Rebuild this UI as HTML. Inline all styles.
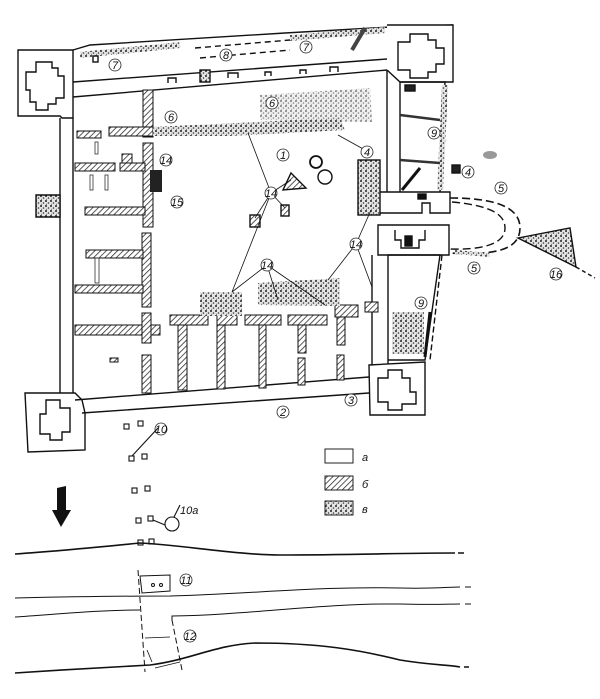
<!DOCTYPE html>
<html><head><meta charset="utf-8"><style>
html,body{margin:0;padding:0;background:#fff;}
svg{display:block}
text{font-family:"Liberation Sans",sans-serif;font-style:italic;font-size:11px;fill:#111}
</style></head><body>
<svg width="600" height="699" viewBox="0 0 600 699" xmlns="http://www.w3.org/2000/svg">
<defs>
<pattern id="h" width="4" height="4" patternUnits="userSpaceOnUse" patternTransform="rotate(45)">
<rect width="4" height="4" fill="#fff"/><line x1="0" y1="0" x2="0" y2="4" stroke="#222" stroke-width="1.5"/></pattern>
<pattern id="s" width="5" height="5" patternUnits="userSpaceOnUse">
<rect width="5" height="5" fill="#e4e4e4"/><circle cx="1" cy="1" r="1" fill="#222"/><circle cx="3.5" cy="3" r="0.8" fill="#333"/><circle cx="1.5" cy="4.2" r="0.5" fill="#444"/></pattern>
</defs>
<g fill="none" stroke="#111" stroke-width="1.4">
<!-- NW tower -->
<path d="M18,50 L73,50 L73,118 L62,118 L60,116 L18,116 Z" fill="#fff"/>
<path d="M36,62 L52,62 L52,68 L58,68 L58,76 L64,76 L64,98 L56,98 L56,104 L48,104 L48,110 L36,110 L36,102 L30,102 L30,90 L26,90 L26,72 L36,72 Z"/>
<!-- North wall & zone 7 -->
<path d="M73,82 L387,59 M73,97 L387,70"/>
<path d="M73,50 L90,45 L285,33 L390,27 L453,25"/>
<path d="M80,55 L180,45" stroke="url(#s)" stroke-width="6"/>
<path d="M290,38 L385,30" stroke="url(#s)" stroke-width="6"/>
<path d="M195,48 L290,40 M200,58 L290,50" stroke-dasharray="6,4"/>
<path d="M352,50 L365,28" stroke-width="4" stroke="#444"/>
<rect x="93" y="56" width="5" height="6"/><rect x="200" y="70" width="10" height="12" fill="url(#s)"/>
<path d="M168,83 v-5 h8 v5 M228,78 v-5 h10 v5 M265,76 v-4 h6 v4 M300,74 v-4 h6 v4 M330,72 v-5 h8 v5"/>
<!-- NE tower -->
<path d="M387,25 L453,25 L453,82 L400,82 L387,70" fill="#fff"/>
<path d="M410,34 L428,34 L428,40 L436,40 L436,48 L444,48 L444,64 L436,64 L436,72 L428,72 L428,78 L410,78 L410,70 L398,70 L398,42 L410,42 Z"/>
<!-- East wall & annex -->
<path d="M387,70 L387,192 M400,82 L400,192"/>
<path d="M400,82 L445,82 L440,192"/>
<path d="M445,85 L440,190" stroke="url(#s)" stroke-width="6"/>
<path d="M400,115 L440,120 M400,160 L440,163" stroke="#333" stroke-width="2.5"/>
<path d="M402,190 L420,168" stroke="#111" stroke-width="3"/>
<rect x="405" y="85" width="10" height="6" fill="#222"/>
<rect x="452" y="165" width="8" height="8" fill="#222"/>
<!-- gate blocks -->
<path d="M378,192 L450,192 L450,213 L430,213 L430,203 L422,203 L422,213 L378,213 Z" fill="#fff"/>
<rect x="418" y="194" width="8" height="5" fill="#111"/>
<path d="M378,225 L449,225 L449,255 L378,255 Z M395,230 v10 h6 v8 h18 v-8 h6 v-10" fill="#fff"/>
<rect x="405" y="236" width="7" height="10" fill="#111"/>
<rect x="358" y="160" width="22" height="55" fill="url(#s)"/>
<!-- loop -->
<path d="M450,198 C490,198 520,205 520,228 C520,252 490,255 449,253" stroke-dasharray="8,4" stroke-width="1.6"/>
<path d="M452,202 C485,205 505,212 505,228 C505,245 480,250 449,249" stroke-dasharray="8,4"/>
<path d="M455,252 L490,255" stroke="url(#s)" stroke-width="4"/>
<path d="M518,238 L570,228 L576,267 Z" fill="url(#s)"/>
<path d="M576,267 L595,278" stroke-dasharray="4,3"/>
<ellipse cx="490" cy="155" rx="7" ry="4" fill="#999" stroke="none"/>
<!-- lower east -->
<path d="M372,255 L372,377 M388,255 L388,377 M388,255 L440,255 L425,360 L388,360"/>
<path d="M442,255 L430,360" stroke-dasharray="6,3"/>
<rect x="392" y="312" width="32" height="42" fill="url(#s)" stroke="none"/>
<path d="M430,312 L425,357" stroke="#111" stroke-width="3"/>
<!-- SE tower -->
<path d="M369,365 L425,362 L425,415 L370,415 Z" fill="#fff"/>
<path d="M388,370 L402,370 L402,378 L410,378 L410,392 L416,392 L416,404 L402,404 L402,410 L388,410 L388,402 L378,402 L378,378 L388,378 Z"/>
<!-- West wall -->
<path d="M60,118 L60,393 M73,118 L73,393"/>
<path d="M36,195 L60,195 L60,217 L36,217 Z" fill="url(#s)"/>
<!-- SW tower -->
<path d="M25,393 L75,393 L82,400 L85,413 L85,450 L28,452 Z" fill="#fff"/>
<path d="M46,400 L60,400 L60,408 L70,408 L70,432 L62,432 L62,440 L50,440 L50,434 L40,434 L40,414 L46,414 Z"/>
<!-- South wall -->
<path d="M75,400 L369,377 M82,413 L369,393"/>
<!-- interior hatched walls -->
<g fill="url(#h)" stroke="#111" stroke-width="1">
<rect x="143" y="90" width="10" height="47"/>
<rect x="109" y="127" width="44" height="9"/>
<rect x="77" y="131" width="24" height="7"/>
<rect x="143" y="143" width="10" height="84"/>
<rect x="75" y="163" width="40" height="8"/>
<rect x="120" y="163" width="25" height="8"/>
<rect x="122" y="154" width="10" height="9"/>
<rect x="85" y="207" width="60" height="8"/>
<rect x="142" y="233" width="9" height="74"/>
<rect x="86" y="250" width="57" height="8"/>
<rect x="75" y="285" width="68" height="8"/>
<rect x="75" y="325" width="85" height="10"/>
<rect x="142" y="313" width="9" height="30"/>
<rect x="142" y="355" width="9" height="38"/>
<rect x="110" y="358" width="8" height="4"/>
<rect x="170" y="315" width="38" height="10"/><rect x="178" y="325" width="9" height="65"/>
<rect x="217" y="315" width="20" height="10"/><rect x="217" y="325" width="8" height="64"/>
<rect x="245" y="315" width="36" height="10"/><rect x="259" y="325" width="7" height="63"/>
<rect x="288" y="315" width="39" height="10"/><rect x="298" y="325" width="8" height="28"/><rect x="298" y="358" width="7" height="27"/>
<rect x="335" y="305" width="23" height="12"/><rect x="337" y="317" width="8" height="28"/><rect x="337" y="355" width="7" height="25"/>
<rect x="365" y="302" width="13" height="10"/>
</g>
<g stroke="#333" stroke-width="0.8">
<rect x="95" y="142" width="3" height="12" /><rect x="90" y="175" width="3" height="15"/><rect x="105" y="175" width="3" height="15"/><rect x="95" y="258" width="4" height="25"/>
</g>
<!-- stipple zones -->
<path d="M153,127 L340,118 L345,130 L230,136 L153,136 Z" fill="url(#s)" stroke="none"/>
<path d="M260,95 L370,88 L372,122 L260,120 Z" fill="url(#s)" stroke="none" opacity="0.6"/>
<rect x="150" y="170" width="12" height="22" fill="#222" stroke="none"/>
<rect x="200" y="292" width="42" height="24" fill="url(#s)" stroke="none"/>
<path d="M258,283 L340,278 L340,306 L258,305 Z" fill="url(#s)" stroke="none"/>
<!-- interior features -->
<path d="M291,173 L306,188 L283,190 Z" fill="url(#h)"/>
<rect x="250" y="215" width="10" height="12" fill="url(#h)"/><rect x="281" y="205" width="8" height="11" fill="url(#h)"/>
<circle cx="316" cy="162" r="6" stroke-width="1.8"/><circle cx="325" cy="177" r="7"/>
<!-- leader lines for 14 -->
<g stroke-width="0.8">
<path d="M271,193 L248,133 M271,193 L291,180 M271,193 L255,218 M271,193 L285,208 M271,193 L232,292"/>
<path d="M356,244 L371,210 M356,244 L372,287 M356,244 L328,280"/>
<path d="M267,265 L232,292 M267,265 L278,300 M267,265 L325,305"/>
<path d="M365,150 L338,135"/>
</g>
</g>
<!-- labels -->
<g fill="#fff" stroke="#222" stroke-width="0.8">
<circle cx="115" cy="65" r="6"/><circle cx="226" cy="55" r="6"/><circle cx="306" cy="47" r="6"/>
<circle cx="171" cy="117" r="6"/><circle cx="272" cy="103" r="6"/><circle cx="283" cy="155" r="6"/>
<circle cx="367" cy="152" r="6"/><circle cx="434" cy="133" r="6"/><circle cx="468" cy="172" r="6"/>
<circle cx="501" cy="188" r="6"/><circle cx="474" cy="268" r="6"/><circle cx="556" cy="274" r="6"/>
<circle cx="421" cy="303" r="6"/><circle cx="166" cy="160" r="6"/><circle cx="177" cy="202" r="6"/>
<circle cx="271" cy="193" r="6"/><circle cx="356" cy="244" r="6"/><circle cx="267" cy="265" r="6"/>
<circle cx="283" cy="412" r="6"/><circle cx="351" cy="400" r="6"/><circle cx="161" cy="429" r="6"/>
<circle cx="186" cy="580" r="6"/><circle cx="190" cy="636" r="6"/>
</g>
<g text-anchor="middle">
<text x="115" y="69">7</text><text x="226" y="59">8</text><text x="306" y="51">7</text>
<text x="171" y="121">6</text><text x="272" y="107">6</text><text x="283" y="159">1</text>
<text x="367" y="156">4</text><text x="434" y="137">9</text><text x="468" y="176">4</text>
<text x="501" y="192">5</text><text x="474" y="272">5</text><text x="556" y="278" font-size="9">16</text>
<text x="421" y="307">9</text><text x="166" y="164" font-size="9">14</text><text x="177" y="206" font-size="9">15</text>
<text x="271" y="197" font-size="9">14</text><text x="356" y="248" font-size="9">14</text><text x="267" y="269" font-size="9">14</text>
<text x="283" y="416">2</text><text x="351" y="404">3</text><text x="161" y="433" font-size="9">10</text>
<text x="186" y="584" font-size="9">11</text><text x="190" y="640" font-size="9">12</text>
</g>
<!-- bottom squares -->
<g fill="#fff" stroke="#111" stroke-width="1.1">
<rect x="124" y="424" width="5" height="5"/><rect x="138" y="421" width="5" height="5"/>
<rect x="129" y="456" width="5" height="5"/><rect x="142" y="454" width="5" height="5"/>
<rect x="132" y="488" width="5" height="5"/><rect x="145" y="486" width="5" height="5"/>
<rect x="136" y="518" width="5" height="5"/><rect x="148" y="516" width="5" height="5"/>
<rect x="138" y="540" width="5" height="5"/><rect x="149" y="539" width="5" height="5"/>
<circle cx="172" cy="524" r="7"/>
<path d="M158,428 L132,456 M153,520 L165,525 M174,517 L180,505" fill="none"/>
</g>
<text x="180" y="514" font-size="11">10a</text>
<!-- legend -->
<rect x="325" y="449" width="28" height="14" fill="#fff" stroke="#222"/>
<rect x="325" y="476" width="28" height="14" fill="url(#h)" stroke="#222"/>
<rect x="325" y="501" width="28" height="14" fill="url(#s)" stroke="#222"/>
<text x="362" y="461" font-size="13">a</text><text x="362" y="488" font-size="13">б</text><text x="362" y="513" font-size="13">в</text>
<!-- arrow -->
<path d="M57,488 L66,486 L66,510 L71,510 L61,527 L52,510 L57,510 Z" fill="#111"/>
<!-- terrain lines -->
<g fill="none" stroke="#111">
<path d="M15,554 C60,551 100,547 140,543 C180,545 240,555 280,555 C350,555 400,553 455,553" stroke-width="1.6"/>
<path d="M458,553 h6" stroke-width="1.5"/>
<path d="M15,598 C60,597 110,596 170,596 C250,594 320,586 400,588 C430,589 450,587 460,587 M465,587 h6" stroke-width="1"/>
<path d="M15,617 C60,614 100,610 140,610 M172,621 L172,616 C250,615 320,603 400,604 C430,605 450,604 460,604 M465,604 h6" stroke-width="1"/>
<path d="M15,673 C60,670 110,667 150,665 C190,660 215,645 255,643 C320,643 360,650 400,660 C430,665 450,665 460,667 M464,667 h5" stroke-width="1.6"/>
<path d="M138,570 L145,672 M172,620 L182,670" stroke-dasharray="6,3"/>
<path d="M140,576 L170,575 L170,591 L142,593 Z" fill="#fff"/>
<circle cx="153" cy="585" r="1.5"/><circle cx="161" cy="585" r="1.5"/>
<path d="M145,638 L170,637 M147,650 L152,662 M155,668 L180,662" stroke-width="0.8"/>
</g>
</svg>
</body></html>
